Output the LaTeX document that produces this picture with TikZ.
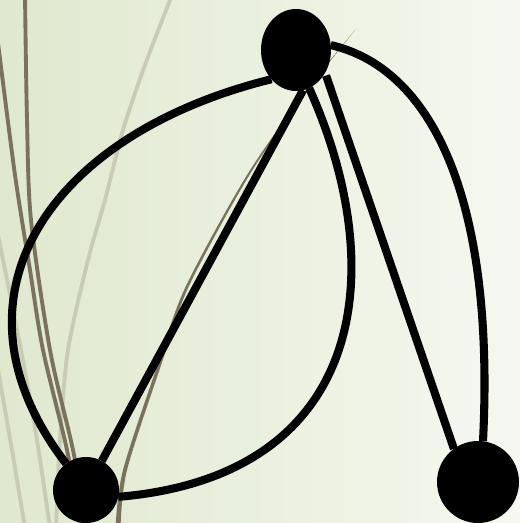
\documentclass[tikz,border=0pt]{standalone}
\usepackage{xcolor}
\usepackage{tikz}
\usetikzlibrary{shapes.geometric}

\definecolor{bgleft}{RGB}{224,232,206}
\definecolor{bgright}{RGB}{245,248,240}
\definecolor{stalkdark}{RGB}{122,114,92}
\definecolor{stalklight}{RGB}{201,204,180}

\begin{document}
\begin{tikzpicture}[
    x=0.02cm, y=0.02cm,
    vertex/.style={circle, fill=black, inner sep=0pt, outer sep=0pt},
    edge/.style={line width=4.6pt, black},
    darkstalk/.style={line width=2.2pt, stalkdark},
    lightstalk/.style={line width=2.2pt, stalklight}
]
    \shade[left color=bgleft, right color=bgright] (0,0) rectangle (520,523);
    \useasboundingbox (0,0) rectangle (520,523);

    \begin{scope}
        \clip (0,0) rectangle (520,523);
        \draw[lightstalk] plot[smooth] coordinates {(172,528) (145,458) (123,393) (105,323) (88,263) (68,173) (60,83) (56,-5)};
        \draw[lightstalk] plot[smooth] coordinates {(-2,288) (20,178) (37,83) (50,-5)};
        \draw[lightstalk] plot[smooth] coordinates {(-2,153) (12,73) (25,-5)};
        \draw[darkstalk] plot[smooth] coordinates {(25,528) (27,403) (31,303) (50,173) (73,73) (87,-5)};
        \draw[darkstalk] plot[smooth] coordinates {(-2,480) (15,348) (30,253) (43,173) (67,73) (81,-5)};
        \fill[stalkdark] plot[smooth] coordinates {(115.5,-5) (123,53) (158.2,160) (185.5,236) (245.8,346) (304.3,430) (355,493)}
            -- plot[smooth] coordinates {(355.4,493.4) (305.7,430) (248.2,346) (188.5,236) (161.8,160) (127,53) (120.5,-5)} -- cycle;
    \end{scope}

    \node[vertex, ellipse, minimum width=1.4cm, minimum height=1.64cm] (top) at (296,473) {};
    \node[vertex, minimum size=1.32cm] (left) at (86,33) {};
    \node[vertex, minimum size=1.64cm] (right) at (478,41) {};

    \draw[edge] (left) -- (top.-80);
    \draw[edge] (top.230) .. controls +(-223,-55) and +(-128,166) .. (left.127);
    \draw[edge] (top.-71) .. controls +(82,-182) and +(249,21) .. (left.-12);
    \draw[edge, shorten <=1.7pt] (top.-38) -- (right.126);
    \draw[edge] (top.8) .. controls +(97.5,-22.3) and +(12.5,250) .. (right.83);
\end{tikzpicture}
\end{document}
